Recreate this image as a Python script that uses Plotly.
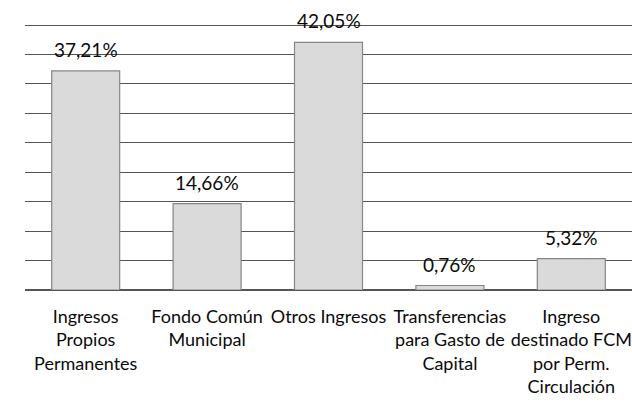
import plotly.graph_objects as go

categories = [
    "Ingresos<br>Propios<br>Permanentes",
    "Fondo Común<br>Municipal",
    "Otros Ingresos",
    "Transferencias<br>para Gasto de<br>Capital",
    "Ingreso<br>destinado FCM<br>por Perm.<br>Circulación",
]
values = [37.21, 14.66, 42.05, 0.76, 5.32]
labels = ["37,21%", "14,66%", "42,05%", "0,76%", "5,32%"]

FONT = "Lato"

fig = go.Figure()
fig.add_trace(go.Bar(
    x=categories,
    y=values,
    width=0.56,
    marker=dict(color="#dadada", line=dict(color="#858585", width=1.2)),
    hoverinfo="skip",
))

for c, v, t in zip(categories, values, labels):
    fig.add_annotation(
        x=c, y=v, text=t, showarrow=False,
        yanchor="bottom", yshift=8,
        font=dict(family=FONT, size=19, color="#0a0a0a"),
    )

fig.update_layout(
    width=632, height=404,
    margin=dict(l=25, r=0, t=22, b=114),
    paper_bgcolor="white", plot_bgcolor="white",
    showlegend=False,
    bargap=0.44,
    font=dict(family=FONT, color="#0a0a0a"),
)
fig.update_xaxes(
    type="category",
    automargin=False,
    showgrid=False,
    showline=False,
    ticks="",
    ticklabelstandoff=14,
    tickfont=dict(family=FONT, size=18, color="#0a0a0a"),
)
fig.update_yaxes(
    range=[0, 45.51],
    tick0=0,
    dtick=5,
    automargin=False,
    showgrid=True,
    gridcolor="#555555",
    gridwidth=1,
    zeroline=True,
    zerolinecolor="#555555",
    zerolinewidth=1.5,
    showticklabels=False,
    ticks="",
    showline=False,
)

fig.write_html(
    "out.html",
    config={"displayModeBar": False},
    post_script="document.body.style.margin='0';document.body.style.overflow='hidden';",
)
